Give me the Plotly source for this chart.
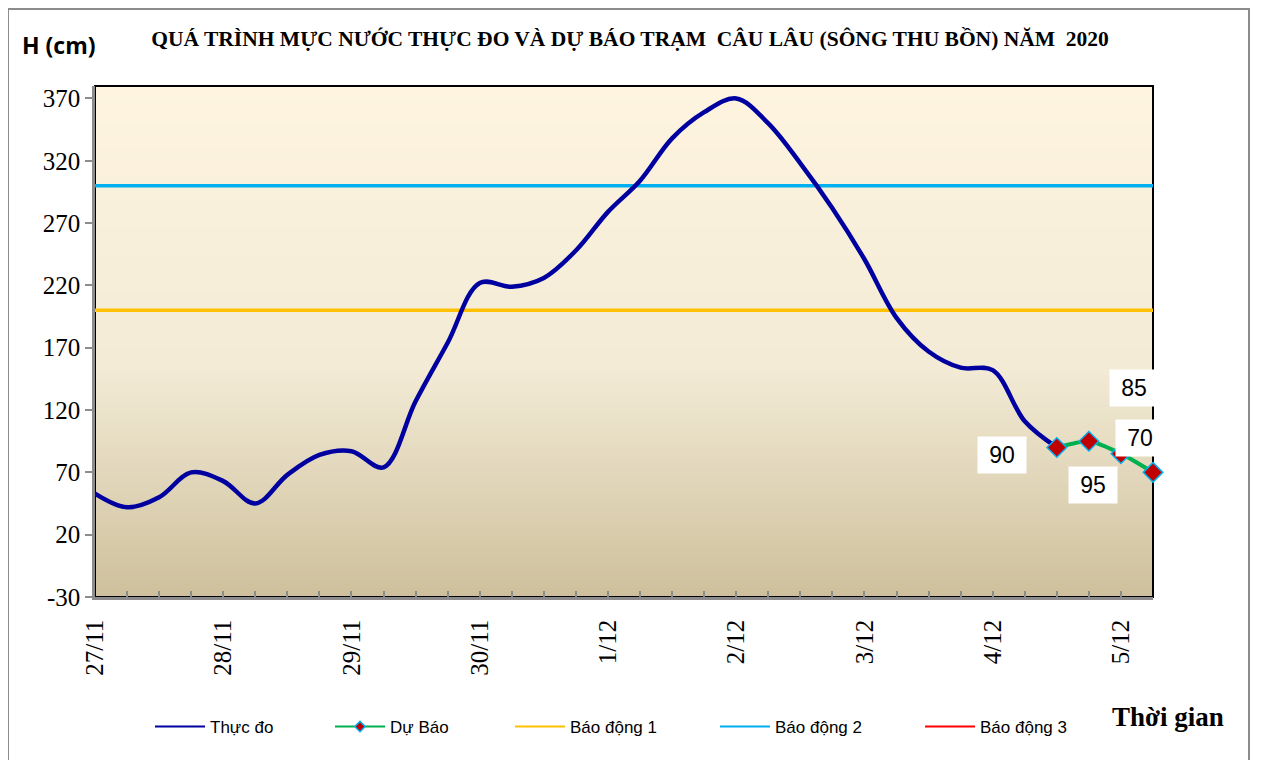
import plotly.graph_objects as go

# ---------------- data ----------------
day_labels = ["27/11", "28/11", "29/11", "30/11", "1/12", "2/12", "3/12", "4/12", "5/12"]
steps_per_day = 4
n_steps = 34
measured = [53, 42, 50, 70, 63, 45, 68, 84, 87, 74, 127, 174, 222, 219, 226, 248,
            279, 304, 338, 359, 370, 350, 318, 282, 241, 194, 167, 154, 152, 111, 90]
forecast = [90, 95, 85, 70]
forecast_start = 30
alarm_names = ["Báo động 1", "Báo động 2", "Báo động 3"]
alarm_levels = [200, 300, 400]
alarm_colors = ["#FFC000", "#00B0F0", "#FF0000"]
y_ticks = [-30, 20, 70, 120, 170, 220, 270, 320, 370]
y_ticktext = ["-30", "20", "70", "120", "170", "220", "270", "320", "370"]

# ---------------- geometry helpers ----------------
OFF = 8                      # page body margin
W, H = 1265 - OFF, 760 - OFF
L, R, T, B = 95, 1153, 86, 597   # plot area in reference pixels
def px(x):
    return (x - L) / (R - L)
def py(y):
    return (B - y) / (B - T)

x_all = list(range(n_steps))
x_meas = x_all[:len(measured)]
x_fc = x_all[forecast_start:forecast_start + len(forecast)]

MEAS_COLOR, FC_COLOR = "#0000A0", "#00B050"
fc_marker = dict(symbol="diamond", color="#C00000", line=dict(color="#00B0F0", width=1.5))

fig = go.Figure()

for name, lvl, col in zip(alarm_names, alarm_levels, alarm_colors):
    fig.add_trace(go.Scatter(
        x=[x_all[0], x_all[-1]], y=[lvl, lvl], name=name, mode="lines",
        line=dict(color=col, width=3.5), showlegend=False, legendgroup=name))

fig.add_trace(go.Scatter(
    x=x_meas, y=measured, name="Thực đo", mode="lines",
    line=dict(color=MEAS_COLOR, width=4.5, shape="spline", smoothing=1.0),
    showlegend=False, legendgroup="Thực đo"))
fig.add_trace(go.Scatter(
    x=x_fc, y=forecast, name="Dự Báo", mode="lines+markers",
    line=dict(color=FC_COLOR, width=4, shape="spline", smoothing=0.6),
    marker=dict(size=15, **fc_marker),
    cliponaxis=False, showlegend=False, legendgroup="Dự Báo"))

# legend entries (thin lines, small marker, as in the reference)
legend_names = ["Thực đo", "Dự Báo"] + alarm_names
legend_colors = [MEAS_COLOR, FC_COLOR] + alarm_colors
legend_starts = [155, 335, 515, 720, 925]
legend_ids = ["legend", "legend2", "legend3", "legend4", "legend5"]
for name, col, lid in zip(legend_names, legend_colors, legend_ids):
    kw = dict(mode="lines")
    if name == "Dự Báo":
        kw = dict(mode="lines+markers", marker=dict(size=8, **fc_marker))
    fig.add_trace(go.Scatter(x=[None], y=[None], name=name, legendgroup=name,
                             line=dict(color=col, width=2), legend=lid,
                             hoverinfo="skip", **kw))

# ---------------- background gradient ----------------
shapes = []
top_c = (254, 244, 224)
mid_c = (243, 235, 214)
bot_c = (206, 192, 156)
nb = 120
for k in range(nb):
    f = (k + 0.5) / nb  # 0 at top, 1 at bottom
    if f < 0.55:
        t = f / 0.55
        c = tuple(round(top_c[j] + (mid_c[j] - top_c[j]) * t) for j in range(3))
    else:
        t = (f - 0.55) / 0.45
        c = tuple(round(mid_c[j] + (bot_c[j] - mid_c[j]) * t) for j in range(3))
    y1 = 1 - k / nb
    y0 = 1 - (k + 1) / nb
    shapes.append(dict(type="rect", xref="paper", yref="paper", x0=0, x1=1,
                       y0=y0 - 0.001, y1=y1 + 0.001, line=dict(width=0),
                       fillcolor="rgb(%d,%d,%d)" % c, layer="below"))
# plot border (top/right black)
shapes.append(dict(type="rect", xref="paper", yref="paper", x0=0, x1=1, y0=0, y1=1,
                   line=dict(color="black", width=2), layer="below"))
# outer frames
shapes.append(dict(type="rect", xref="paper", yref="paper",
                   x0=px(8), x1=px(1249), y0=py(780), y1=py(9),
                   line=dict(color="#8C8C8C", width=2), layer="below"))
shapes.append(dict(type="line", xref="paper", yref="paper",
                   x0=px(-20), x1=px(1249), y0=py(1.5), y1=py(1.5),
                   line=dict(color="#8C8C8C", width=3), layer="below"))

# ---------------- annotations ----------------
annotations = [
    dict(text="<b>H (cm)</b>", xref="paper", yref="paper", x=px(59), y=py(45),
         xanchor="center", yanchor="middle",
         showarrow=False, font=dict(family="Open Sans", size=23, color="black")),
    dict(text="<b>Thời gian</b>", xref="paper", yref="paper", x=px(1168), y=py(717),
         xanchor="center", yanchor="middle",
         showarrow=False, font=dict(family="Liberation Serif", size=27, color="black")),
]
label_shift = [(-55, -8), (4, -44), (13, 66), (-13, 34)]
for xi, v, (dx, dy) in zip(x_fc, forecast, label_shift):
    annotations.append(dict(text=str(v), x=xi, y=v, xref="x", yref="y",
                            showarrow=False, xshift=dx, yshift=dy,
                            xanchor="center", yanchor="middle",
                            bgcolor="white", width=46, height=34,
                            font=dict(family="Liberation Sans", size=23, color="black")))

legend_common = dict(orientation="h", y=py(727), xanchor="left", yanchor="middle",
                     font=dict(family="Liberation Sans", size=17, color="black"),
                     itemwidth=50, bgcolor="rgba(0,0,0,0)")
legends = {lid: dict(x=px(s - 5), **legend_common) for lid, s in zip(legend_ids, legend_starts)}

fig.update_layout(
    width=W, height=H,
    margin=dict(l=L - OFF, r=(W + OFF) - R, t=T - OFF, b=(H + OFF) - B, pad=0),
    paper_bgcolor="white", plot_bgcolor="rgba(0,0,0,0)",
    title=dict(text="<b>QUÁ TRÌNH MỰC NƯỚC THỰC ĐO VÀ DỰ BÁO TRẠM  CÂU LÂU (SÔNG THU BỒN) NĂM  2020</b>",
               x=(630 - OFF) / W, y=1 - (38 - OFF) / H, xanchor="center", yanchor="middle",
               xref="container", yref="container",
               font=dict(family="Liberation Serif", size=21.5, color="black")),
    showlegend=True,
    shapes=shapes, annotations=annotations,
    **legends,
)
fig.update_xaxes(
    range=[0, n_steps - 1], showgrid=False, zeroline=False,
    tickvals=x_all[::steps_per_day][:len(day_labels)], ticktext=day_labels,
    tickangle=-90, ticks="inside", ticklen=6, tickcolor="#8C8C8C", tickwidth=2,
    minor=dict(dtick=1, tick0=0, ticks="inside", ticklen=6, tickcolor="#8C8C8C", tickwidth=2),
    showline=True, linecolor="#8C8C8C", linewidth=2.5,
    tickfont=dict(family="Liberation Serif", size=25, color="black"),
    ticklabelstandoff=10)
fig.update_yaxes(
    range=[-30, 380], showgrid=False, zeroline=False,
    tickvals=y_ticks, ticktext=y_ticktext, ticks="outside", ticklen=7,
    tickcolor="#8C8C8C", tickwidth=2,
    showline=True, linecolor="#8C8C8C", linewidth=2.5,
    tickfont=dict(family="Liberation Serif", size=25, color="black"))

fig.write_html("out.html")
